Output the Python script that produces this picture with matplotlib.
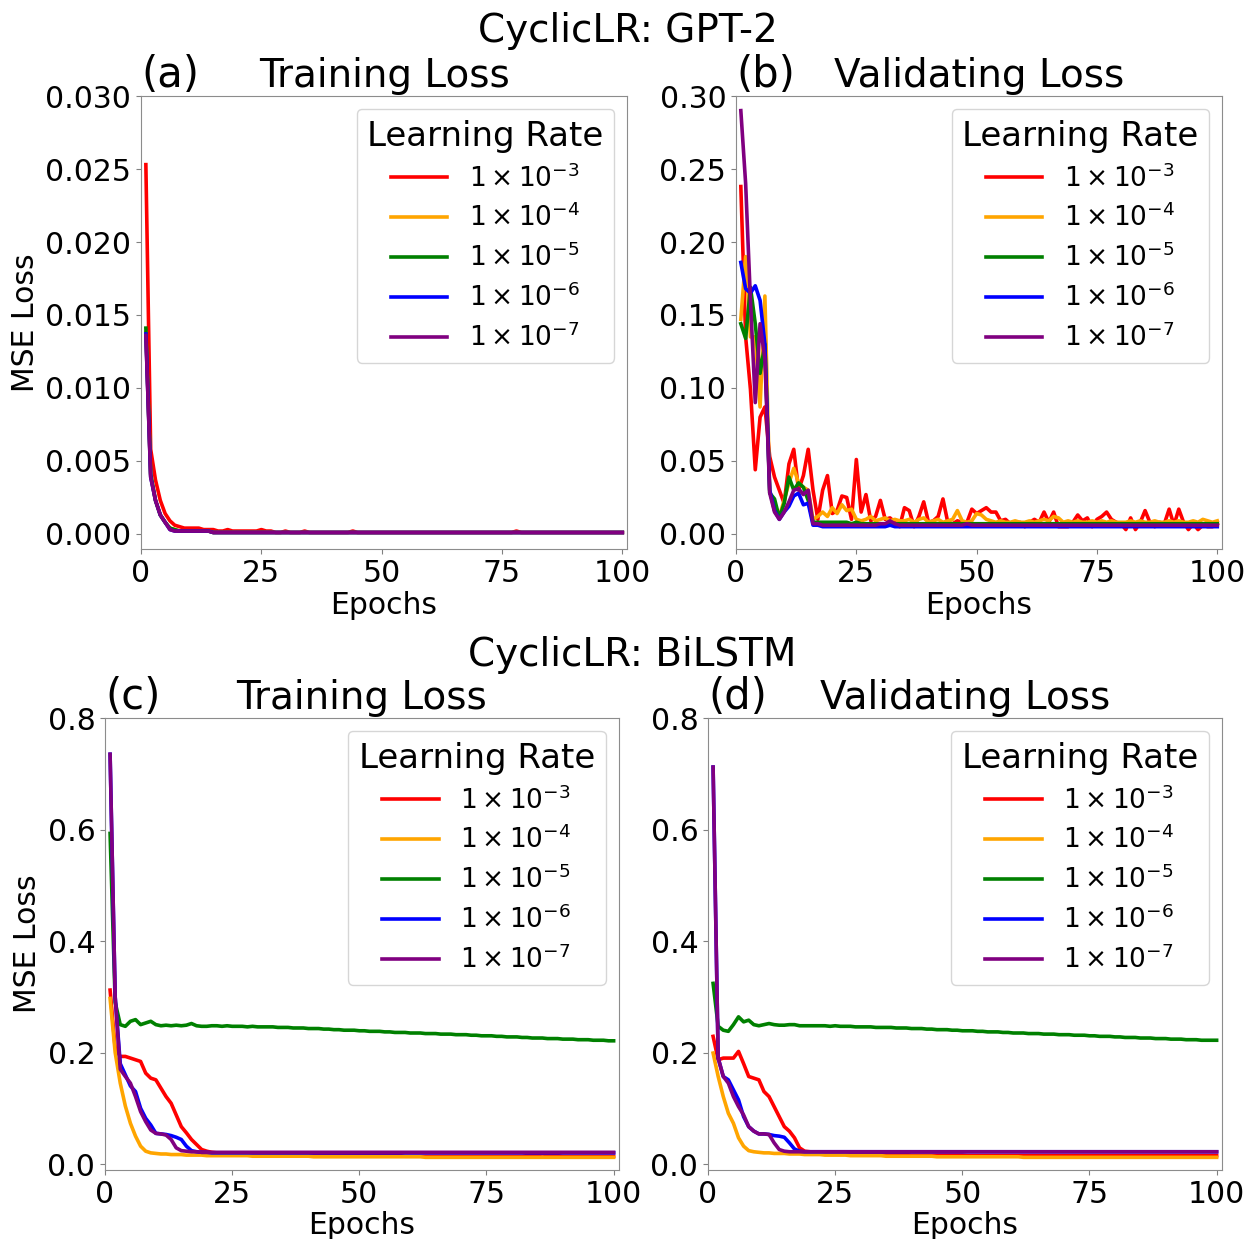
import numpy as np
import matplotlib
matplotlib.use("Agg")
from matplotlib import pyplot as plt

# ---- data ----
lr_labels = [r'$1\times10^{-3}$', r'$1\times10^{-4}$', r'$1\times10^{-5}$',
             r'$1\times10^{-6}$', r'$1\times10^{-7}$']
colors = ['red', 'orange', 'green', 'blue', 'purple']
xticks = [0, 25, 50, 75, 100]

# (a) GPT-2 training loss
gpt_train_red = [
    0.0253, 0.0058, 0.0037, 0.0023, 0.0014, 0.0009, 0.0006, 0.0005, 0.0004, 0.0004,
    0.0004, 0.0004, 0.0003, 0.0003, 0.0003, 0.0002, 0.0002, 0.0003, 0.0002, 0.0002,
    0.0002, 0.0002, 0.0002, 0.0002, 0.0003, 0.0002, 0.0002, 0.0001, 0.0001, 0.0002,
    0.0001, 0.0001, 0.0001, 0.0002, 0.0001, 0.0001, 0.0001, 0.0001, 0.0001, 0.0001,
    0.0001, 0.0001, 0.0001, 0.0002, 0.0001, 0.0001, 0.0001, 0.0001, 0.0001, 0.0001,
    0.0001, 0.0001, 0.0001, 0.0001, 0.0001, 0.0001, 0.0001, 0.0001, 0.0001, 0.0001,
    0.0001, 0.0001, 0.0001, 0.0001, 0.0001, 0.0001, 0.0001, 0.0001, 0.0001, 0.0001,
    0.0001, 0.0001, 0.0001, 0.0001, 0.0001, 0.0001, 0.0001, 0.0002, 0.0001, 0.0001,
    0.0001, 0.0001, 0.0001, 0.0001, 0.0001, 0.0001, 0.0001, 0.0001, 0.0001, 0.0001,
    0.0001, 0.0001, 0.0001, 0.0001, 0.0001, 0.0001, 0.0001, 0.0001, 0.0001, 0.0001]
gpt_train_orange = [
    0.0138, 0.0040, 0.0023, 0.0013, 0.0008, 0.0004, 0.0003, 0.0002, 0.0002, 0.0002,
    0.0002, 0.0002, 0.0002, 0.0002, 0.0001, 0.0001, 0.0001, 0.0001, 0.0001, 0.0001,
    0.0001, 0.0001, 0.0001, 0.0001, 0.0001, 0.0001, 0.0001, 0.0001, 0.0001, 0.0001,
    0.0001, 0.0001, 0.0001, 0.0001, 0.0001, 0.0001, 0.0001, 0.0001, 0.0001, 0.0001,
    0.0001, 0.0001, 0.0001, 0.0001, 0.0001, 0.0001, 0.0001, 0.0001, 0.0001, 0.0001,
    0.0001, 0.0001, 0.0001, 0.0001, 0.0001, 0.0001, 0.0001, 0.0001, 0.0001, 0.0001,
    0.0001, 0.0001, 0.0001, 0.0001, 0.0001, 0.0001, 0.0001, 0.0001, 0.0001, 0.0001,
    0.0001, 0.0001, 0.0001, 0.0001, 0.0001, 0.0001, 0.0001, 0.0001, 0.0001, 0.0001,
    0.0001, 0.0001, 0.0001, 0.0001, 0.0001, 0.0001, 0.0001, 0.0001, 0.0001, 0.0001,
    0.0001, 0.0001, 0.0001, 0.0001, 0.0001, 0.0001, 0.0001, 0.0001, 0.0001, 0.0001]
gpt_train_green = [
    0.0141, 0.0041, 0.0023, 0.0013, 0.0008, 0.0004, 0.0003, 0.0002, 0.0002, 0.0002,
    0.0002, 0.0002, 0.0002, 0.0002, 0.0001, 0.0001, 0.0001, 0.0001, 0.0001, 0.0001,
    0.0001, 0.0001, 0.0001, 0.0001, 0.0001, 0.0001, 0.0001, 0.0001, 0.0001, 0.0001,
    0.0001, 0.0001, 0.0001, 0.0001, 0.0001, 0.0001, 0.0001, 0.0001, 0.0001, 0.0001,
    0.0001, 0.0001, 0.0001, 0.0001, 0.0001, 0.0001, 0.0001, 0.0001, 0.0001, 0.0001,
    0.0001, 0.0001, 0.0001, 0.0001, 0.0001, 0.0001, 0.0001, 0.0001, 0.0001, 0.0001,
    0.0001, 0.0001, 0.0001, 0.0001, 0.0001, 0.0001, 0.0001, 0.0001, 0.0001, 0.0001,
    0.0001, 0.0001, 0.0001, 0.0001, 0.0001, 0.0001, 0.0001, 0.0001, 0.0001, 0.0001,
    0.0001, 0.0001, 0.0001, 0.0001, 0.0001, 0.0001, 0.0001, 0.0001, 0.0001, 0.0001,
    0.0001, 0.0001, 0.0001, 0.0001, 0.0001, 0.0001, 0.0001, 0.0001, 0.0001, 0.0001]
gpt_train_blue = [
    0.0137, 0.0039, 0.0023, 0.0013, 0.0008, 0.0003, 0.0002, 0.0002, 0.0002, 0.0002,
    0.0002, 0.0002, 0.0002, 0.0002, 0.0001, 0.0001, 0.0001, 0.0001, 0.0001, 0.0001,
    0.0001, 0.0001, 0.0001, 0.0001, 0.0001, 0.0001, 0.0001, 0.0001, 0.0001, 0.0001,
    0.0001, 0.0001, 0.0001, 0.0001, 0.0001, 0.0001, 0.0001, 0.0001, 0.0001, 0.0001,
    0.0001, 0.0001, 0.0001, 0.0001, 0.0001, 0.0001, 0.0001, 0.0001, 0.0001, 0.0001,
    0.0001, 0.0001, 0.0001, 0.0001, 0.0001, 0.0001, 0.0001, 0.0001, 0.0001, 0.0001,
    0.0001, 0.0001, 0.0001, 0.0001, 0.0001, 0.0001, 0.0001, 0.0001, 0.0001, 0.0001,
    0.0001, 0.0001, 0.0001, 0.0001, 0.0001, 0.0001, 0.0001, 0.0001, 0.0001, 0.0001,
    0.0001, 0.0001, 0.0001, 0.0001, 0.0001, 0.0001, 0.0001, 0.0001, 0.0001, 0.0001,
    0.0001, 0.0001, 0.0001, 0.0001, 0.0001, 0.0001, 0.0001, 0.0001, 0.0001, 0.0001]
gpt_train_purple = [
    0.0136, 0.0039, 0.0023, 0.0013, 0.0008, 0.0003, 0.0002, 0.0002, 0.0002, 0.0002,
    0.0002, 0.0002, 0.0002, 0.0002, 0.0001, 0.0001, 0.0001, 0.0001, 0.0001, 0.0001,
    0.0001, 0.0001, 0.0001, 0.0001, 0.0001, 0.0001, 0.0001, 0.0001, 0.0001, 0.0001,
    0.0001, 0.0001, 0.0001, 0.0001, 0.0001, 0.0001, 0.0001, 0.0001, 0.0001, 0.0001,
    0.0001, 0.0001, 0.0001, 0.0001, 0.0001, 0.0001, 0.0001, 0.0001, 0.0001, 0.0001,
    0.0001, 0.0001, 0.0001, 0.0001, 0.0001, 0.0001, 0.0001, 0.0001, 0.0001, 0.0001,
    0.0001, 0.0001, 0.0001, 0.0001, 0.0001, 0.0001, 0.0001, 0.0001, 0.0001, 0.0001,
    0.0001, 0.0001, 0.0001, 0.0001, 0.0001, 0.0001, 0.0001, 0.0001, 0.0001, 0.0001,
    0.0001, 0.0001, 0.0001, 0.0001, 0.0001, 0.0001, 0.0001, 0.0001, 0.0001, 0.0001,
    0.0001, 0.0001, 0.0001, 0.0001, 0.0001, 0.0001, 0.0001, 0.0001, 0.0001, 0.0001]

# (b) GPT-2 validating loss
gpt_val_red = [
    0.238, 0.135, 0.099, 0.044, 0.080, 0.087, 0.053, 0.039, 0.030, 0.021,
    0.048, 0.058, 0.030, 0.040, 0.058, 0.030, 0.010, 0.030, 0.040, 0.014,
    0.016, 0.026, 0.025, 0.010, 0.051, 0.015, 0.027, 0.009, 0.012, 0.023,
    0.010, 0.011, 0.008, 0.005, 0.018, 0.016, 0.005, 0.012, 0.022, 0.008,
    0.009, 0.012, 0.024, 0.008, 0.007, 0.009, 0.008, 0.008, 0.017, 0.014,
    0.016, 0.018, 0.015, 0.015, 0.009, 0.010, 0.007, 0.006, 0.008, 0.005,
    0.008, 0.010, 0.008, 0.015, 0.008, 0.015, 0.005, 0.005, 0.005, 0.008,
    0.013, 0.009, 0.011, 0.005, 0.010, 0.012, 0.015, 0.010, 0.008, 0.007,
    0.003, 0.011, 0.003, 0.008, 0.016, 0.008, 0.005, 0.008, 0.007, 0.017,
    0.006, 0.017, 0.008, 0.003, 0.007, 0.003, 0.006, 0.005, 0.005, 0.007]
gpt_val_orange = [
    0.147, 0.190, 0.135, 0.135, 0.087, 0.163, 0.030, 0.016, 0.012, 0.023,
    0.035, 0.045, 0.035, 0.032, 0.030, 0.010, 0.012, 0.015, 0.012, 0.018,
    0.014, 0.020, 0.016, 0.017, 0.010, 0.009, 0.010, 0.012, 0.009, 0.010,
    0.011, 0.009, 0.010, 0.009, 0.009, 0.010, 0.008, 0.010, 0.011, 0.008,
    0.009, 0.010, 0.008, 0.009, 0.010, 0.016, 0.009, 0.008, 0.009, 0.014,
    0.013, 0.010, 0.009, 0.008, 0.009, 0.008, 0.008, 0.009, 0.008, 0.008,
    0.009, 0.008, 0.009, 0.010, 0.009, 0.012, 0.011, 0.008, 0.009, 0.008,
    0.009, 0.008, 0.008, 0.009, 0.008, 0.009, 0.008, 0.009, 0.008, 0.008,
    0.008, 0.009, 0.008, 0.009, 0.008, 0.008, 0.009, 0.008, 0.008, 0.009,
    0.008, 0.009, 0.008, 0.008, 0.009, 0.008, 0.010, 0.009, 0.008, 0.009]
gpt_val_green = [
    0.144, 0.134, 0.169, 0.144, 0.110, 0.130, 0.028, 0.024, 0.011, 0.021,
    0.039, 0.030, 0.035, 0.032, 0.023, 0.008, 0.008, 0.008, 0.008, 0.008,
    0.008, 0.008, 0.008, 0.007, 0.008, 0.007, 0.007, 0.007, 0.007, 0.007,
    0.007, 0.007, 0.007, 0.007, 0.007, 0.007, 0.007, 0.007, 0.007, 0.007,
    0.007, 0.007, 0.007, 0.007, 0.007, 0.007, 0.007, 0.007, 0.007, 0.007,
    0.007, 0.007, 0.007, 0.007, 0.007, 0.007, 0.007, 0.007, 0.007, 0.007,
    0.007, 0.007, 0.007, 0.007, 0.007, 0.007, 0.007, 0.007, 0.007, 0.007,
    0.007, 0.007, 0.007, 0.007, 0.007, 0.007, 0.007, 0.007, 0.007, 0.007,
    0.007, 0.007, 0.007, 0.007, 0.007, 0.007, 0.007, 0.007, 0.007, 0.007,
    0.007, 0.007, 0.007, 0.007, 0.007, 0.007, 0.007, 0.007, 0.007, 0.007]
gpt_val_blue = [
    0.186, 0.168, 0.165, 0.170, 0.160, 0.130, 0.030, 0.016, 0.010, 0.015,
    0.019, 0.026, 0.028, 0.020, 0.021, 0.006, 0.006, 0.005, 0.005, 0.005,
    0.005, 0.005, 0.005, 0.005, 0.005, 0.005, 0.005, 0.005, 0.005, 0.005,
    0.005, 0.006, 0.005, 0.005, 0.005, 0.005, 0.005, 0.005, 0.005, 0.005,
    0.005, 0.005, 0.005, 0.005, 0.005, 0.005, 0.005, 0.005, 0.005, 0.005,
    0.005, 0.005, 0.005, 0.005, 0.005, 0.005, 0.005, 0.005, 0.005, 0.005,
    0.005, 0.005, 0.005, 0.005, 0.005, 0.005, 0.005, 0.005, 0.005, 0.005,
    0.005, 0.005, 0.005, 0.005, 0.005, 0.005, 0.005, 0.005, 0.005, 0.005,
    0.005, 0.005, 0.005, 0.005, 0.005, 0.005, 0.005, 0.005, 0.005, 0.005,
    0.005, 0.005, 0.005, 0.005, 0.005, 0.005, 0.005, 0.005, 0.005, 0.005]
gpt_val_purple = [
    0.290, 0.240, 0.160, 0.090, 0.144, 0.120, 0.028, 0.015, 0.010, 0.015,
    0.022, 0.030, 0.031, 0.027, 0.030, 0.007, 0.007, 0.006, 0.006, 0.006,
    0.006, 0.006, 0.006, 0.006, 0.006, 0.006, 0.006, 0.006, 0.006, 0.007,
    0.007, 0.009, 0.007, 0.006, 0.006, 0.006, 0.006, 0.006, 0.006, 0.006,
    0.006, 0.006, 0.006, 0.006, 0.006, 0.006, 0.006, 0.007, 0.006, 0.006,
    0.006, 0.006, 0.006, 0.006, 0.006, 0.006, 0.006, 0.006, 0.006, 0.006,
    0.006, 0.006, 0.006, 0.006, 0.006, 0.006, 0.006, 0.006, 0.006, 0.006,
    0.006, 0.006, 0.006, 0.006, 0.006, 0.006, 0.006, 0.006, 0.006, 0.006,
    0.006, 0.006, 0.006, 0.006, 0.006, 0.006, 0.006, 0.006, 0.006, 0.006,
    0.006, 0.006, 0.006, 0.006, 0.006, 0.006, 0.006, 0.006, 0.006, 0.006]

# (c) BiLSTM training loss
lstm_train_red = [
    0.312, 0.208, 0.193, 0.193, 0.190, 0.187, 0.184, 0.163, 0.154, 0.151,
    0.136, 0.121, 0.109, 0.088, 0.067, 0.056, 0.044, 0.035, 0.026, 0.023,
    0.021, 0.020, 0.020, 0.019, 0.019, 0.019, 0.018, 0.018, 0.018, 0.018,
    0.018, 0.017, 0.017, 0.017, 0.017, 0.017, 0.017, 0.016, 0.016, 0.016,
    0.016, 0.016, 0.016, 0.016, 0.016, 0.016, 0.015, 0.015, 0.015, 0.015,
    0.015, 0.015, 0.015, 0.015, 0.015, 0.015, 0.015, 0.015, 0.014, 0.014,
    0.014, 0.014, 0.014, 0.014, 0.014, 0.014, 0.014, 0.014, 0.014, 0.014,
    0.014, 0.014, 0.014, 0.014, 0.014, 0.014, 0.014, 0.014, 0.014, 0.014,
    0.014, 0.014, 0.015, 0.016, 0.017, 0.018, 0.017, 0.016, 0.015, 0.014,
    0.014, 0.014, 0.014, 0.014, 0.014, 0.014, 0.014, 0.014, 0.014, 0.014]
lstm_train_orange = [
    0.297, 0.200, 0.145, 0.104, 0.073, 0.050, 0.032, 0.023, 0.020, 0.019,
    0.018, 0.018, 0.017, 0.017, 0.017, 0.016, 0.016, 0.016, 0.016, 0.015,
    0.015, 0.015, 0.015, 0.015, 0.015, 0.015, 0.015, 0.015, 0.014, 0.014,
    0.014, 0.014, 0.014, 0.014, 0.014, 0.014, 0.014, 0.014, 0.014, 0.014,
    0.013, 0.013, 0.013, 0.013, 0.013, 0.013, 0.013, 0.013, 0.013, 0.013,
    0.013, 0.013, 0.013, 0.013, 0.013, 0.013, 0.013, 0.013, 0.013, 0.013,
    0.013, 0.013, 0.012, 0.012, 0.012, 0.012, 0.012, 0.012, 0.012, 0.012,
    0.012, 0.012, 0.012, 0.012, 0.012, 0.012, 0.012, 0.012, 0.012, 0.012,
    0.012, 0.012, 0.012, 0.012, 0.012, 0.012, 0.012, 0.012, 0.012, 0.012,
    0.012, 0.012, 0.012, 0.012, 0.012, 0.012, 0.012, 0.012, 0.012, 0.012]
lstm_train_green = [
    0.593, 0.290, 0.250, 0.247, 0.256, 0.259, 0.250, 0.253, 0.256, 0.250,
    0.248, 0.249, 0.248, 0.249, 0.248, 0.249, 0.252, 0.248, 0.247, 0.247,
    0.248, 0.248, 0.247, 0.248, 0.247, 0.247, 0.247, 0.246, 0.247, 0.246,
    0.246, 0.246, 0.246, 0.245, 0.245, 0.245, 0.244, 0.244, 0.244, 0.243,
    0.243, 0.243, 0.242, 0.242, 0.241, 0.241, 0.240, 0.240, 0.240, 0.239,
    0.239, 0.238, 0.238, 0.238, 0.237, 0.237, 0.236, 0.236, 0.236, 0.235,
    0.235, 0.235, 0.234, 0.234, 0.234, 0.233, 0.233, 0.233, 0.232, 0.232,
    0.232, 0.231, 0.231, 0.230, 0.230, 0.230, 0.229, 0.229, 0.228, 0.228,
    0.228, 0.227, 0.227, 0.226, 0.226, 0.226, 0.225, 0.225, 0.225, 0.224,
    0.224, 0.224, 0.223, 0.223, 0.223, 0.222, 0.222, 0.222, 0.221, 0.221]
lstm_train_blue = [
    0.735, 0.300, 0.180, 0.160, 0.140, 0.130, 0.100, 0.082, 0.070, 0.055,
    0.054, 0.053, 0.051, 0.048, 0.044, 0.032, 0.024, 0.022, 0.021, 0.021,
    0.020, 0.020, 0.020, 0.020, 0.020, 0.020, 0.020, 0.020, 0.020, 0.020,
    0.020, 0.020, 0.020, 0.020, 0.020, 0.020, 0.020, 0.020, 0.020, 0.020,
    0.020, 0.020, 0.020, 0.020, 0.020, 0.020, 0.020, 0.020, 0.020, 0.020,
    0.020, 0.020, 0.020, 0.020, 0.020, 0.020, 0.020, 0.020, 0.020, 0.020,
    0.020, 0.020, 0.020, 0.020, 0.020, 0.020, 0.020, 0.020, 0.020, 0.020,
    0.020, 0.020, 0.020, 0.020, 0.020, 0.020, 0.020, 0.020, 0.020, 0.020,
    0.020, 0.020, 0.020, 0.020, 0.020, 0.020, 0.020, 0.020, 0.020, 0.020,
    0.020, 0.020, 0.020, 0.020, 0.020, 0.020, 0.020, 0.020, 0.020, 0.020]
lstm_train_purple = [
    0.735, 0.300, 0.170, 0.157, 0.145, 0.121, 0.094, 0.076, 0.061, 0.055,
    0.054, 0.052, 0.044, 0.029, 0.024, 0.023, 0.022, 0.022, 0.021, 0.021,
    0.021, 0.021, 0.021, 0.021, 0.021, 0.021, 0.021, 0.021, 0.021, 0.021,
    0.021, 0.021, 0.021, 0.021, 0.021, 0.021, 0.021, 0.021, 0.021, 0.021,
    0.021, 0.021, 0.021, 0.021, 0.021, 0.021, 0.021, 0.021, 0.021, 0.021,
    0.021, 0.021, 0.021, 0.021, 0.021, 0.021, 0.021, 0.021, 0.021, 0.021,
    0.021, 0.021, 0.021, 0.021, 0.021, 0.021, 0.021, 0.021, 0.021, 0.021,
    0.021, 0.021, 0.021, 0.021, 0.021, 0.021, 0.021, 0.021, 0.021, 0.021,
    0.021, 0.021, 0.021, 0.021, 0.021, 0.021, 0.021, 0.021, 0.021, 0.021,
    0.021, 0.021, 0.021, 0.021, 0.021, 0.021, 0.021, 0.021, 0.021, 0.021]

# (d) BiLSTM validating loss
lstm_val_red = [
    0.229, 0.187, 0.190, 0.190, 0.190, 0.202, 0.180, 0.157, 0.154, 0.151,
    0.130, 0.121, 0.103, 0.085, 0.067, 0.059, 0.047, 0.029, 0.023, 0.022,
    0.021, 0.021, 0.020, 0.020, 0.020, 0.019, 0.019, 0.019, 0.018, 0.018,
    0.018, 0.018, 0.018, 0.017, 0.017, 0.017, 0.017, 0.017, 0.017, 0.016,
    0.016, 0.016, 0.016, 0.016, 0.016, 0.016, 0.016, 0.016, 0.016, 0.016,
    0.015, 0.015, 0.015, 0.015, 0.015, 0.015, 0.015, 0.015, 0.015, 0.015,
    0.015, 0.015, 0.015, 0.015, 0.015, 0.015, 0.015, 0.015, 0.015, 0.015,
    0.015, 0.015, 0.015, 0.015, 0.015, 0.015, 0.015, 0.015, 0.015, 0.015,
    0.015, 0.015, 0.015, 0.015, 0.015, 0.015, 0.015, 0.015, 0.015, 0.015,
    0.015, 0.015, 0.015, 0.015, 0.015, 0.015, 0.015, 0.015, 0.015, 0.015]
lstm_val_orange = [
    0.199, 0.157, 0.121, 0.091, 0.073, 0.047, 0.032, 0.024, 0.022, 0.021,
    0.020, 0.020, 0.019, 0.019, 0.019, 0.018, 0.018, 0.018, 0.017, 0.017,
    0.017, 0.017, 0.016, 0.016, 0.016, 0.016, 0.016, 0.015, 0.015, 0.015,
    0.015, 0.015, 0.015, 0.015, 0.014, 0.014, 0.014, 0.014, 0.014, 0.014,
    0.014, 0.014, 0.014, 0.014, 0.013, 0.013, 0.013, 0.013, 0.013, 0.013,
    0.013, 0.013, 0.013, 0.013, 0.013, 0.013, 0.013, 0.013, 0.013, 0.013,
    0.013, 0.012, 0.012, 0.012, 0.012, 0.012, 0.012, 0.012, 0.012, 0.012,
    0.012, 0.012, 0.012, 0.012, 0.012, 0.012, 0.012, 0.012, 0.012, 0.012,
    0.012, 0.012, 0.012, 0.012, 0.012, 0.012, 0.012, 0.012, 0.012, 0.012,
    0.012, 0.012, 0.012, 0.012, 0.012, 0.012, 0.012, 0.012, 0.012, 0.012]
lstm_val_green = [
    0.324, 0.247, 0.240, 0.238, 0.250, 0.264, 0.255, 0.258, 0.250, 0.248,
    0.250, 0.252, 0.250, 0.249, 0.249, 0.250, 0.250, 0.248, 0.248, 0.248,
    0.248, 0.248, 0.248, 0.247, 0.248, 0.247, 0.247, 0.247, 0.246, 0.246,
    0.246, 0.246, 0.245, 0.245, 0.245, 0.245, 0.244, 0.244, 0.244, 0.243,
    0.243, 0.243, 0.242, 0.242, 0.241, 0.241, 0.241, 0.240, 0.240, 0.239,
    0.239, 0.239, 0.238, 0.238, 0.237, 0.237, 0.237, 0.236, 0.236, 0.235,
    0.235, 0.235, 0.234, 0.234, 0.234, 0.233, 0.233, 0.233, 0.232, 0.232,
    0.232, 0.231, 0.231, 0.231, 0.230, 0.230, 0.229, 0.229, 0.229, 0.228,
    0.228, 0.227, 0.227, 0.227, 0.226, 0.226, 0.226, 0.225, 0.225, 0.225,
    0.224, 0.224, 0.224, 0.223, 0.223, 0.223, 0.222, 0.222, 0.222, 0.222]
lstm_val_blue = [
    0.712, 0.190, 0.157, 0.151, 0.133, 0.115, 0.085, 0.067, 0.059, 0.054,
    0.054, 0.053, 0.051, 0.050, 0.048, 0.038, 0.027, 0.023, 0.022, 0.022,
    0.022, 0.022, 0.022, 0.022, 0.022, 0.022, 0.022, 0.022, 0.022, 0.022,
    0.022, 0.022, 0.022, 0.022, 0.022, 0.022, 0.022, 0.022, 0.022, 0.022,
    0.022, 0.022, 0.022, 0.022, 0.022, 0.022, 0.022, 0.022, 0.022, 0.022,
    0.022, 0.022, 0.022, 0.022, 0.022, 0.022, 0.022, 0.022, 0.022, 0.022,
    0.022, 0.022, 0.022, 0.022, 0.022, 0.022, 0.022, 0.022, 0.022, 0.022,
    0.022, 0.022, 0.022, 0.022, 0.022, 0.022, 0.022, 0.022, 0.022, 0.022,
    0.022, 0.022, 0.022, 0.022, 0.022, 0.022, 0.022, 0.022, 0.022, 0.022,
    0.022, 0.022, 0.022, 0.022, 0.022, 0.022, 0.022, 0.022, 0.022, 0.022]
lstm_val_purple = [
    0.712, 0.190, 0.157, 0.145, 0.121, 0.103, 0.088, 0.067, 0.059, 0.054,
    0.054, 0.053, 0.038, 0.026, 0.023, 0.022, 0.022, 0.022, 0.022, 0.022,
    0.022, 0.022, 0.022, 0.022, 0.022, 0.022, 0.022, 0.022, 0.022, 0.022,
    0.022, 0.022, 0.022, 0.022, 0.022, 0.022, 0.022, 0.022, 0.022, 0.022,
    0.022, 0.022, 0.022, 0.022, 0.022, 0.022, 0.022, 0.022, 0.022, 0.022,
    0.022, 0.022, 0.022, 0.022, 0.022, 0.022, 0.022, 0.022, 0.022, 0.022,
    0.022, 0.022, 0.022, 0.022, 0.022, 0.022, 0.022, 0.022, 0.022, 0.022,
    0.022, 0.022, 0.022, 0.022, 0.022, 0.022, 0.022, 0.022, 0.022, 0.022,
    0.022, 0.022, 0.022, 0.022, 0.022, 0.022, 0.022, 0.022, 0.022, 0.022,
    0.022, 0.022, 0.022, 0.022, 0.022, 0.022, 0.022, 0.022, 0.022, 0.022]

panels = [
    ("(a)", "Training Loss", [gpt_train_red, gpt_train_orange, gpt_train_green, gpt_train_blue, gpt_train_purple],
     np.arange(0, 0.0301, 0.005), (-0.00103, 0.030), [0.1123, 0.5569, 0.387, 0.3656], True),
    ("(b)", "Validating Loss", [gpt_val_red, gpt_val_orange, gpt_val_green, gpt_val_blue, gpt_val_purple],
     np.arange(0, 0.301, 0.05), (-0.0103, 0.30), [0.586, 0.5569, 0.387, 0.3656], False),
    ("(c)", "Training Loss", [lstm_train_red, lstm_train_orange, lstm_train_green, lstm_train_blue, lstm_train_purple],
     np.arange(0, 0.81, 0.2), (-0.0107, 0.80), [0.0836, 0.0557, 0.409, 0.3648], True),
    ("(d)", "Validating Loss", [lstm_val_red, lstm_val_orange, lstm_val_green, lstm_val_blue, lstm_val_purple],
     np.arange(0, 0.81, 0.2), (-0.0107, 0.80), [0.5637, 0.0557, 0.409, 0.3648], False),
]

fig = plt.figure(figsize=(12.56, 12.39), dpi=100)

for tag, title, series, yt, ylim, pos, ylab in panels:
    ax = fig.add_axes(pos)
    for vals, c, lab in zip(series, colors, lr_labels):
        ax.plot(np.arange(1, len(vals) + 1), vals, color=c, lw=2.6, label=lab)
    ax.set_xlim(0, 101)
    ax.set_ylim(*ylim)
    ax.set_xticks(xticks)
    ax.set_yticks(yt)
    ax.tick_params(labelsize=21.5, color='0.5')
    for s in ax.spines.values():
        s.set_color('0.55')
    ax.set_title(tag, loc='left', fontsize=30)
    ax.set_title(title, fontsize=28)
    ax.set_xlabel("Epochs", fontsize=21.5, labelpad=2)
    if ylab:
        ax.set_ylabel("MSE Loss", fontsize=21.5)
    ax.legend(title="Learning Rate", fontsize=19, title_fontsize=24.5,
              loc='upper right', handlelength=2.15, labelspacing=0.43)

fig.text(0.5, 0.966, "CyclicLR: GPT-2", fontsize=28, ha='center', va='baseline')
fig.text(0.503, 0.4627, "CyclicLR: BiLSTM", fontsize=28, ha='center', va='baseline')

fig.savefig("out.png", dpi=100)
